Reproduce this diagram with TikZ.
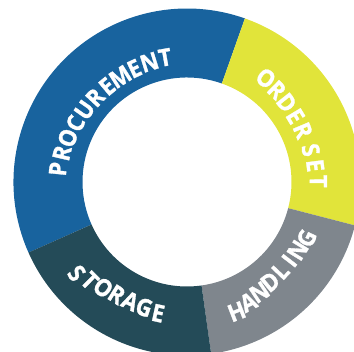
\documentclass[tikz,border=0pt]{standalone}
\usepackage{fontspec}
\newfontfamily\ringfont{Open Sans}[FakeBold=1.2, FakeStretch=0.92]
\definecolor{procblue}{HTML}{18639E}
\definecolor{orderyellow}{HTML}{E1E43A}
\definecolor{handgray}{HTML}{7F868D}
\definecolor{storeteal}{HTML}{244B58}
\newcommand\ringstyle{\ringfont\bfseries\fontsize{24}{24}\selectfont}
\newlength\ltrw
\makeatletter
% #1 name prefix, #2 cx, #3 cy, #4 radius of the text arc,
% #5 angle of first letter centre, #6 angle of last letter centre, #7 letters
\newcommand\ringtext[7]{%
  \gdef\rt@W{0}\gdef\rt@n{1}\gdef\rt@first{0}\gdef\rt@last{0}%
  \foreach \ch [count=\k] in {#7}{%
    \settowidth{\ltrw}{\ringstyle\ch}%
    \edef\rt@w{\strip@pt\ltrw}%
    \pgfmathsetmacro\rt@tmp{\rt@W+\rt@w}\xdef\rt@W{\rt@tmp}%
    \xdef\rt@n{\k}%
    \ifnum\k=1\relax\xdef\rt@first{\rt@w}\fi
    \xdef\rt@last{\rt@w}%
  }%
  \pgfmathsetmacro\rt@dir{ifthenelse(#5>#6,1,-1)}%
  \pgfmathsetmacro\rt@t{(abs(#5-#6)*pi/180*#4-(\rt@W-\rt@first/2-\rt@last/2))/(\rt@n-1)}%
  \xdef\rt@dir{\rt@dir}\xdef\rt@t{\rt@t}%
  \gdef\rt@s{0}\gdef\rt@prev{0}%
  \foreach \ch [count=\k] in {#7}{%
    \settowidth{\ltrw}{\ringstyle\ch}%
    \edef\rt@w{\strip@pt\ltrw}%
    \ifnum\k>1\relax
      \pgfmathsetmacro\rt@tmp{\rt@s+\rt@prev/2+\rt@t+\rt@w/2}\xdef\rt@s{\rt@tmp}%
    \fi
    \xdef\rt@prev{\rt@w}%
    \pgfmathsetmacro\rt@a{#5-\rt@dir*deg(\rt@s/#4)}%
    \pgfmathsetmacro\rt@x{#2+#4*cos(\rt@a)}%
    \pgfmathsetmacro\rt@y{#3+#4*sin(\rt@a)}%
    \pgfmathsetmacro\rt@rot{atan2(\rt@y,\rt@x)-\rt@dir*90}%
    \node[ringletter, rotate=\rt@rot] (#1\k) at (\rt@x,\rt@y) {\ch};
  }%
}
\makeatother
\begin{document}
\begin{tikzpicture}[x=1pt,y=1pt,
  ringletter/.style={font=\ringstyle, text=white, inner sep=0pt,
    text height=17pt, text depth=0pt, anchor=center}]
\useasboundingbox (-187,-170) rectangle (167,182);
\def\ri{104.5}\def\ro{173.5}
\fill[procblue] (70.5:\ri) arc[start angle=70.5,end angle=204,radius=\ri]
  -- (204:\ro) arc[start angle=204,end angle=70.5,radius=\ro] -- cycle;
\fill[orderyellow] (-14.5:\ri) arc[start angle=-14.5,end angle=70.5,radius=\ri]
  -- (70.5:\ro) arc[start angle=70.5,end angle=-14.5,radius=\ro] -- cycle;
\fill[handgray] (-82:\ri) arc[start angle=-82,end angle=-14.5,radius=\ri]
  -- (-14.5:\ro) arc[start angle=-14.5,end angle=-82,radius=\ro] -- cycle;
\fill[storeteal] (204:\ri) arc[start angle=204,end angle=278,radius=\ri]
  -- (278:\ro) arc[start angle=278,end angle=204,radius=\ro] -- cycle;
\ringtext{p}{11.6}{-14.9}{143.4}{168.8}{103.55}{P,R,O,C,U,R,E,M,E,N,T}
\ringtext{o}{-50.2}{-26.9}{183.6}{45.35}{8.65}{O,R,D,E,R\kern5pt,S,E,T}
\ringtext{h}{-158.7}{139.0}{340}{-52.2}{-35.05}{H,A,N,D,L,{\kern-1.5pt I\kern-1.5pt},N,G}
\ringtext{s}{232.1}{502.0}{685}{240.0}{247.6}{S,T,O,R,A,G,E}
\end{tikzpicture}
\end{document}
